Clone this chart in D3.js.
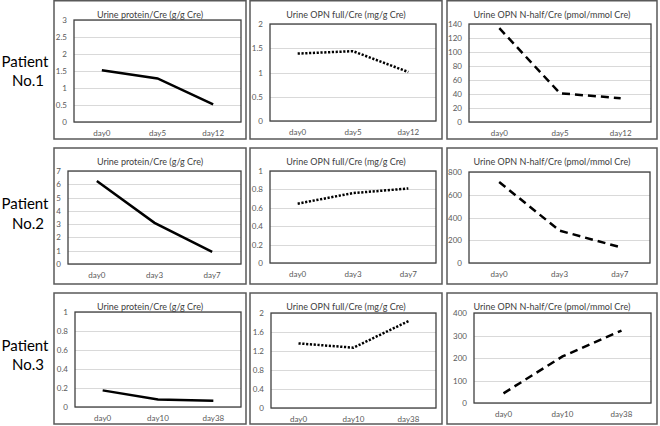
<!DOCTYPE html>
<html>
<head>
<meta charset="utf-8">
<script src="https://cdn.jsdelivr.net/npm/d3@7"></script>
<style>
  body { margin: 0; background: #fff; }
  svg { display: block; font-family: Lato, "Open Sans", sans-serif; }
  .tick-label { font-size: 8px; fill: #595959; }
  .title { font-size: 9px; fill: #404040; }
  .patient { font-size: 15px; fill: #000; }
</style>
</head>
<body>
<div id="chart"></div>
<script>
// row labels
var patients = [["Patient", "No.1"], ["Patient", "No.2"], ["Patient", "No.3"]];
// panel titles (one per column)
var titles = ["Urine protein/Cre (g/g Cre)", "Urine OPN full/Cre (mg/g Cre)", "Urine OPN N-half/Cre (pmol/mmol Cre)"];
// sampling days per patient
var days = [["day0", "day5", "day12"], ["day0", "day3", "day7"], ["day0", "day10", "day38"]];
// values per patient
var protein = [[1.52, 1.28, 0.52], [6.25, 3.1, 0.92], [0.175, 0.08, 0.065]];
var opnFull = [[1.39, 1.44, 1.01], [0.645, 0.76, 0.81], [1.36, 1.27, 1.83]];
var opnNHalf = [[134, 41, 34], [712, 285, 140], [43, 207, 322]];
// y axis maxima and steps [patient][column]
var yMax = [[3, 2, 140], [7, 1, 800], [1, 2, 400]];
var yStep = [[0.5, 0.5, 20], [1, 0.2, 200], [0.2, 0.4, 100]];

var series = [protein, opnFull, opnNHalf];
var dashes = [null, "2.2,1.6", "8,5"];

// layout
var rowsOuter = [[0.75, 139], [148, 284], [293, 424]];
var colsOuter = [[54, 246], [250, 442], [447, 657]];
var plotY = [[[20, 122], [24, 121], [24, 122]], [[171, 264], [171, 263], [172, 263]], [[312, 407], [313, 408], [313, 403]]];
var plotX = [[[74, 241], [270, 436], [469, 651]], [[68, 241], [270, 436], [469, 650]], [[75, 241], [271, 436], [474, 651]]];

var svg = d3.select("#chart").append("svg").attr("width", 660).attr("height", 426);

patients.forEach(function(p, r) {
  var lbl = svg.append("text").attr("class", "patient").attr("text-anchor", "middle");
  lbl.append("tspan").attr("x", 25).attr("y", [67, 209, 351][r]).text(p[0]);
  lbl.append("tspan").attr("x", 28).attr("y", [86, 229, 370][r]).text(p[1]);

  for (var c = 0; c < 3; c++) {
    var ox = colsOuter[c], oy = rowsOuter[r];
    var px = plotX[r][c], py = plotY[r][c];
    var g = svg.append("g");

    g.append("rect")
      .attr("x", ox[0]).attr("y", oy[0])
      .attr("width", ox[1] - ox[0]).attr("height", oy[1] - oy[0])
      .attr("fill", "#fff").attr("stroke", "#595959").attr("stroke-width", 1.5);

    var x = d3.scaleBand().domain(days[r]).range(px).padding(0);
    var y = d3.scaleLinear().domain([0, yMax[r][c]]).range([py[1], py[0]]);
    var ticks = d3.range(0, yMax[r][c] + yStep[r][c] / 2, yStep[r][c]).map(function(v) { return +v.toFixed(2); });

    g.selectAll(".grid").data(ticks).enter().append("line")
      .attr("x1", px[0]).attr("x2", px[1])
      .attr("y1", function(d) { return Math.round(y(d)) + 0.5; })
      .attr("y2", function(d) { return Math.round(y(d)) + 0.5; })
      .attr("stroke", "#d9d9d9").attr("stroke-width", 1);

    g.selectAll(".ytick").data(ticks).enter().append("text")
      .attr("class", "tick-label").attr("text-anchor", "end")
      .attr("x", px[0] - 7).attr("y", function(d) { return y(d) + 3; })
      .text(function(d) { return d; });

    g.selectAll(".xtick").data(days[r]).enter().append("text")
      .attr("class", "tick-label").attr("text-anchor", "middle")
      .attr("x", function(d) { return x(d) + x.bandwidth() / 2; })
      .attr("y", py[1] + 14)
      .text(function(d) { return d; });

    g.append("rect")
      .attr("x", px[0]).attr("y", py[0])
      .attr("width", px[1] - px[0]).attr("height", py[1] - py[0])
      .attr("fill", "none").attr("stroke", "#404040").attr("stroke-width", 1.3);

    g.append("text").attr("class", "title").attr("text-anchor", "middle")
      .attr("x", (ox[0] + ox[1]) / 2).attr("y", oy[0] + 17)
      .text(titles[c]);

    var line = d3.line()
      .x(function(d, i) { return x(days[r][i]) + x.bandwidth() / 2; })
      .y(function(d) { return y(d); });

    g.append("path").datum(series[c][r])
      .attr("d", line)
      .attr("fill", "none").attr("stroke", "#000").attr("stroke-width", 2.5)
      .attr("stroke-dasharray", dashes[c]);
  }
});
</script>
</body>
</html>
